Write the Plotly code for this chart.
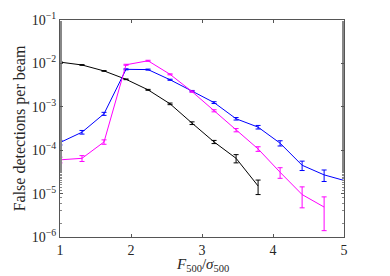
import plotly.graph_objects as go

x_vals = [1 + 0.31 * k for k in range(14)]

black_y = [1.07e-2, 9.2e-3, 6.7e-3, 4.3e-3, 2.46e-3, 1.17e-3, 4.2e-4, 1.55e-4, 6.5e-5, 1.5e-5]
black_err = [2e-4, 1.5e-4, 1.2e-4, 8e-5, 6e-5, 5e-5, 3e-5, 1.3e-5, 1.4e-5, 0.55e-5]

blue_y = [1.5e-4, 2.6e-4, 6.9e-4, 7.3e-3, 7.2e-3, 4.2e-3, 2.3e-3, 1.25e-3, 5.3e-4, 3.4e-4, 1.45e-4, 4.5e-5, 2.7e-5, 1.95e-5]
blue_err = [1.8e-5, 2.5e-5, 5.5e-5, 2e-4, 2e-4, 1.2e-4, 8e-5, 6e-5, 3.5e-5, 3.2e-5, 2e-5, 1.1e-5, 0.8e-5, 0.6e-5]

pink_y = [6.0e-5, 6.5e-5, 1.55e-4, 9.3e-3, 1.15e-2, 5.6e-3, 2.24e-3, 8.1e-4, 2.9e-4, 1.07e-4, 3.1e-5, 9.5e-6, 4.9e-6]
pink_err = [9e-6, 1e-5, 1.8e-5, 2.5e-4, 3e-4, 1.5e-4, 8e-5, 4.5e-5, 2.5e-5, 1.3e-5, 0.85e-5, 4.8e-6, 3.5e-6]

x_title = "<i>F</i><sub>500</sub>/<i>σ</i><sub>500</sub>"
y_title = "False detections per beam"

series = [
    ("black", black_y, black_err, "#000000"),
    ("blue", blue_y, blue_err, "#0000ff"),
    ("magenta", pink_y, pink_err, "#ff00ff"),
]

fig = go.Figure()
for name, ys, errs, col in series:
    fig.add_trace(go.Scatter(
        x=x_vals[:len(ys)], y=ys, mode="lines",
        line=dict(color=col, width=1),
        error_y=dict(type="data", array=errs, visible=True, color=col, thickness=1, width=2.5),
        name=name, showlegend=False,
    ))

font_family = "Liberation Serif, DejaVu Serif, serif"
fig.update_layout(
    width=382, height=268,
    margin=dict(l=52, r=46, t=12, b=39),
    paper_bgcolor="white", plot_bgcolor="white",
    font=dict(family=font_family, size=14, color="#262626"),
)
fig.add_annotation(
    text=x_title, xref="paper", yref="paper", x=0.5, y=-0.078,
    xanchor="center", yanchor="top", showarrow=False,
    font=dict(size=15, family=font_family, color="#262626"),
)
fig.update_xaxes(
    range=[1, 5], tickvals=[1, 2, 3, 4, 5],
    ticks="inside", ticklen=3, tickcolor="#555",
    showline=True, linecolor="#555", linewidth=1, mirror="ticks",
    showgrid=False, zeroline=False, automargin=False,
    tickfont=dict(size=14),
)
fig.update_yaxes(
    type="log", range=[-6, -1],
    tickvals=[1e-6, 1e-5, 1e-4, 1e-3, 1e-2, 1e-1],
    ticktext=["10<sup>−6</sup>", "10<sup>−5</sup>", "10<sup>−4</sup>", "10<sup>−3</sup>", "10<sup>−2</sup>", "10<sup>−1</sup>"],
    ticks="inside", ticklen=3, tickcolor="#555",
    minor=dict(ticks="inside", ticklen=2, tickcolor="#888", showgrid=False),
    showline=True, linecolor="#555", linewidth=1, mirror="ticks",
    showgrid=False, zeroline=False, automargin=False,
    title=dict(text=y_title, standoff=2, font=dict(size=16)),
    tickfont=dict(size=14),
)
fig.write_html("out.html")
